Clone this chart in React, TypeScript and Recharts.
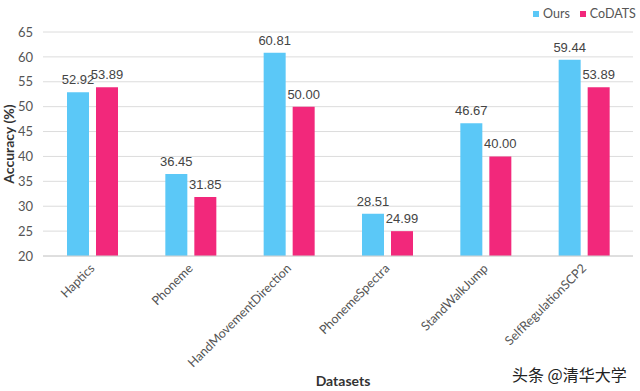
import React from "react";
import { BarChart, Bar, XAxis, YAxis, CartesianGrid, LabelList } from "recharts";

const categories = ["Haptics", "Phoneme", "HandMovementDirection", "PhonemeSpectra", "StandWalkJump", "SelfRegulationSCP2"];
const ours = [52.92, 36.45, 60.81, 28.51, 46.67, 59.44];
const codats = [53.89, 31.85, 50.0, 24.99, 40.0, 53.89];
const yTicks = [20, 25, 30, 35, 40, 45, 50, 55, 60, 65];

const data = categories.map((c, i) => ({ name: c, ours: ours[i], codats: codats[i] }));

const BLUE = "#5BC8F7";
const PINK = "#F2287B";
const FONT = "Lato, 'Open Sans', sans-serif";

const XTick = (props: any) => {
  const { x, y, payload } = props;
  return (
    <text
      x={x}
      y={y}
      transform={`rotate(-45, ${x}, ${y})`}
      textAnchor="end"
      dominantBaseline="central"
      fontSize={12.5}
      fill="#555"
      fontFamily={FONT}
    >
      {payload.value}
    </text>
  );
};

const fmt = (v: any) => Number(v).toFixed(2);

export default function App() {
  return (
    <div style={{ position: "absolute", left: 0, top: 0, width: 640, height: 391, background: "#fff", fontFamily: FONT }}>
      <BarChart
        width={640}
        height={391}
        data={data}
        margin={{ top: 32, right: 7, left: 13, bottom: 0 }}
        barSize={22}
        barGap={7}
      >
        <CartesianGrid vertical={false} stroke="#dcdcdc" />
        <XAxis
          dataKey="name"
          height={135}
          tick={<XTick />}
          tickLine={false}
          axisLine={{ stroke: "#d0d0d0" }}
          interval={0}
          tickSize={8}
        />
        <YAxis
          width={30}
          domain={[20, 65]}
          ticks={yTicks}
          axisLine={false}
          tickLine={false}
          tick={{ fontSize: 13, fill: "#555", fontFamily: FONT }}
          tickMargin={4}
        />
        <Bar dataKey="ours" fill={BLUE} isAnimationActive={false}>
          <LabelList dataKey="ours" position="top" offset={8} formatter={fmt} fontSize={13} fill="#444" fontFamily="'Liberation Sans', Arial, sans-serif" />
        </Bar>
        <Bar dataKey="codats" fill={PINK} isAnimationActive={false}>
          <LabelList dataKey="codats" position="top" offset={8} formatter={fmt} fontSize={13} fill="#444" fontFamily="'Liberation Sans', Arial, sans-serif" />
        </Bar>
      </BarChart>
      <div
        style={{
          position: "absolute",
          left: 8,
          top: 144,
          transform: "translate(-50%, -50%) rotate(-90deg)",
          whiteSpace: "nowrap",
          fontSize: 14,
          fontWeight: 700,
          color: "#333",
        }}
      >
        Accuracy (%)
      </div>
      <div
        style={{
          position: "absolute",
          left: 343,
          top: 380,
          transform: "translate(-50%, -50%)",
          fontSize: 14,
          fontWeight: 700,
          color: "#333",
        }}
      >
        Datasets
      </div>
      <div style={{ position: "absolute", left: 533, top: 6, display: "flex", alignItems: "center", fontSize: 12.5, color: "#555" }}>
        <span style={{ display: "inline-block", width: 6, height: 6, background: BLUE, marginRight: 4 }} />
        <span style={{ marginRight: 10 }}>Ours</span>
        <span style={{ display: "inline-block", width: 6, height: 6, background: PINK, marginRight: 4 }} />
        <span>CoDATS</span>
      </div>
      <div
        style={{
          position: "absolute",
          left: 512,
          top: 362,
          fontSize: 16,
          color: "#222",
          fontFamily: "'Noto Sans CJK SC', sans-serif",
          whiteSpace: "nowrap",
        }}
      >
        头条 @清华大学
      </div>
    </div>
  );
}
